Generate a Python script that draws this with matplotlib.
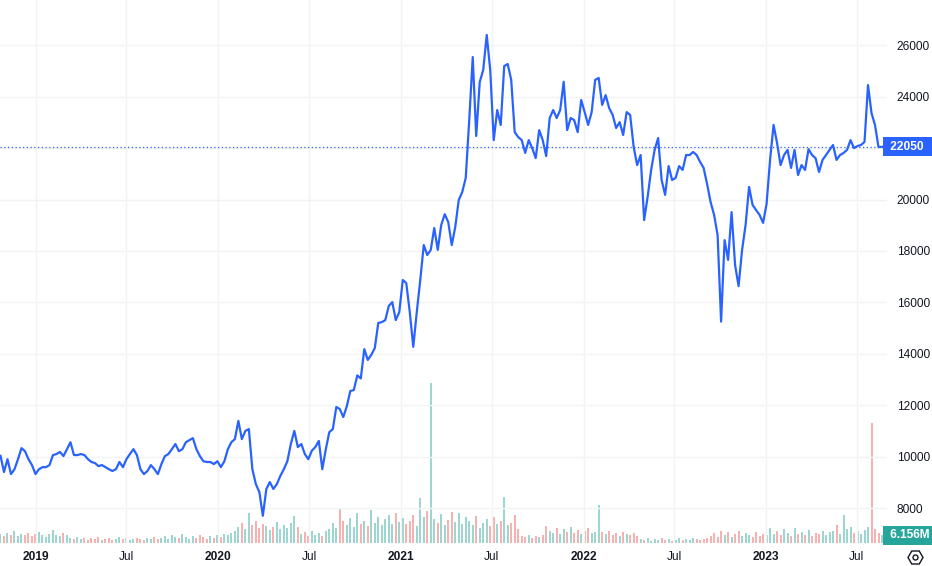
import numpy as np
import pandas as pd
import matplotlib
matplotlib.use("Agg")
import matplotlib.pyplot as plt
import matplotlib.transforms as mtransforms
from matplotlib.patches import RegularPolygon, Circle

plt.rcParams['font.family'] = ['Liberation Sans', 'DejaVu Sans']

# weekly closing prices
prices = [
    10030, 9400, 9900, 9320, 9510, 9900, 10330, 10210, 9900, 9670,
    9320, 9510, 9590, 9590, 9670, 10060, 10100, 10180, 10020, 10290,
    10560, 10060, 10060, 10100, 10060, 9900, 9790, 9750, 9630, 9670,
    9590, 9510, 9440, 9510, 9790, 9590, 9900, 10100, 10290, 10060,
    9510, 9320, 9440, 9670, 9510, 9320, 9710, 10020, 10100, 10290,
    10490, 10210, 10290, 10560, 10640, 10720, 10290, 10020, 9820, 9790,
    9790, 9710, 9820, 9590, 9820, 10290, 10560, 10680, 11390, 10680,
    11000, 11070, 9510, 8930, 8620, 7700, 8740, 9010, 8740, 8930,
    9250, 9510, 9820, 10490, 11000, 10370, 10490, 10100, 9900, 10230,
    10370, 10610, 9510, 10290, 10950, 11070, 11930, 11850, 11540, 11960,
    12550, 12590, 13160, 13040, 14180, 13760, 13960, 14220, 15200, 15230,
    15310, 15860, 16010, 15310, 15620, 16870, 16750, 15620, 14270, 15620,
    16870, 18230, 17840, 18040, 18890, 18040, 19010, 19430, 19120, 18230,
    18930, 19980, 20290, 20840, 23090, 25540, 22470, 24570, 25040, 26400,
    25040, 22310, 23480, 22900, 25190, 25270, 24650, 22620, 22430, 22310,
    21810, 22310, 22000, 21610, 22700, 22310, 21690, 23170, 23480, 23170,
    23480, 24580, 22700, 23170, 23090, 22620, 23870, 23400, 22900, 23400,
    24650, 24730, 23680, 24060, 23560, 23290, 22780, 23010, 22510, 23400,
    23290, 22050, 21340, 21730, 19200, 20100, 21150, 21930, 22390, 20760,
    20180, 21300, 20760, 20840, 21300, 21150, 21730, 21730, 21850, 21730,
    21460, 21230, 20600, 19900, 19400, 18620, 15250, 18420, 17650, 19510,
    17450, 16630, 18040, 19010, 20490, 19790, 19590, 19400, 19090, 19830,
    21540, 22900, 22200, 21340, 21730, 21930, 21230, 21930, 20950, 21340,
    21150, 21960, 21730, 21610, 21070, 21540, 21730, 21930, 22120, 21540,
    21730, 21810, 21930, 22310, 22000, 22080, 22120, 22240, 24450, 23360,
    22900, 22040, 22050,
]

# volume (millions)
volumes = [
    7.4, 5.7, 8.2, 6.6, 9.8, 5.7, 7.4, 6.6, 8.2, 5.7, 7.4, 9.0, 6.6, 4.9, 7.4, 10.7, 6.6, 5.7, 8.2, 6.6,
    4.1, 3.3, 4.9, 3.3, 4.1, 2.5, 4.1, 3.3, 4.9, 2.5, 3.3, 4.1, 2.5, 3.3, 4.9, 3.3, 4.1, 2.5, 3.3, 4.1,
    3.3, 2.5, 4.1, 3.3, 4.9, 3.3,
    4.1, 5.7, 3.3, 6.6, 4.9, 4.1, 7.4, 4.9, 3.3, 5.7, 4.1, 6.6, 4.9, 3.3, 5.7, 4.1, 6.6,
    4.9, 7.4, 6.6, 8.2, 9.8,
    13.1, 16.4, 11.5, 24.6, 14.8, 18.0, 12.3, 15.6, 13.9, 10.7, 13.1, 17.2, 11.5, 14.8, 12.3, 16.4, 22.1, 13.1,
    7.4, 9.0, 5.7, 9.8, 6.6, 8.2, 5.7, 9.8, 11.5,
    16.4, 12.3, 28.7, 18.0, 14.8, 20.5, 13.1, 24.6, 15.6, 18.0, 13.9, 27.1, 16.4, 21.3, 14.8, 19.7, 23.0, 15.6, 24.6, 17.2,
    20.5, 15.6, 18.0, 23.0, 13.9, 36.9, 21.3, 26.2, 131.2, 19.7, 16.4, 23.8, 14.8, 18.9, 25.4, 17.2, 24.6, 15.6, 21.3,
    18.0, 14.8, 22.1, 12.3, 16.4, 19.7, 13.9, 21.3, 15.6, 18.0, 37.7, 14.8, 16.4, 23.0, 11.5,
    5.7, 4.9, 6.6, 4.1, 5.7, 4.9, 6.6,
    13.9, 9.8, 8.2, 12.3, 7.4, 11.5, 9.0, 13.1, 8.2, 10.7, 7.4, 9.8, 12.3, 8.2, 9.0, 31.2,
    9.0, 7.4, 9.8, 6.6, 8.2, 5.7, 9.0, 7.4, 6.6, 8.2, 5.7,
    3.3, 2.5, 4.1, 1.6, 3.3, 2.5, 4.1, 2.5, 3.3, 1.6, 2.5, 4.1, 2.5, 3.3, 2.5, 4.1, 3.3, 2.5, 3.3, 4.1,
    5.7, 8.2, 4.9, 9.8, 6.6, 9.0, 4.9, 7.4, 9.8, 5.7, 8.2, 6.6, 4.9, 9.0, 5.7, 7.4, 6.6,
    12.3, 7.4, 9.8, 6.6, 11.5, 8.2, 5.7, 12.3, 7.4, 9.0, 6.6, 10.7, 5.7, 8.2, 7.4, 9.8, 6.6, 9.0,
    9.8, 14.8, 7.4, 23.0, 11.5, 13.1, 8.2, 9.8, 7.4,
    10.7, 13.1, 98.4, 11.5, 8.2, 6.156,
]

dates = pd.date_range('2018-10-22', periods=len(prices), freq='7D')

tick_dates = pd.to_datetime(['2019-01-01', '2019-07-01', '2020-01-01', '2020-07-01',
                             '2021-01-01', '2021-07-01', '2022-01-01', '2022-07-01',
                             '2023-01-01', '2023-07-01'])
tick_labels = ['2019', 'Jul', '2020', 'Jul', '2021', 'Jul', '2022', 'Jul', '2023', 'Jul']
price_ticks = [8000, 10000, 12000, 14000, 16000, 18000, 20000, 22000, 24000, 26000]
last_price = 22050

blue = '#2962FF'
grid_c = '#f2f3f5'
text_c = '#131722'

fig = plt.figure(figsize=(9.32, 5.66), dpi=100)
rect = [0, 23 / 566, 887 / 932, 543 / 566]
ax = fig.add_axes(rect)
axv = ax.twinx()
ax.set_zorder(axv.get_zorder() + 1)
ax.patch.set_visible(False)

# volume bars
p = np.array(prices)
up = np.r_[True, p[1:] >= p[:-1]]
vcol = np.where(up, '#26a69a', '#ef5350')
axv.bar(dates, volumes, width=4, color=vcol, alpha=0.45, linewidth=0)
axv.set_ylim(0, max(volumes) * 543 / 160)
axv.set_yticks([])

# price line
ax.plot(dates, prices, color=blue, linewidth=1.6, solid_joinstyle='round')
ax.axhline(last_price, color=blue, linestyle=(0, (1, 2)), linewidth=0.9)

ax.set_xlim(pd.Timestamp('2018-10-21'), pd.Timestamp('2023-08-31'))
ax.set_ylim(6640, 27760)

ax.yaxis.tick_right()
ax.set_yticks(price_ticks)
# the 22000 label is hidden behind the last-price tag
ax.set_yticklabels(['' if v == 22000 else str(v) for v in price_ticks])
ax.tick_params(axis='y', length=0, pad=7, labelsize=8.6, labelcolor=text_c)
ax.set_xticks(tick_dates)
ax.set_xticklabels(tick_labels)
ax.tick_params(axis='x', length=0, pad=6, labelsize=8.6, labelcolor=text_c)
for lbl in ax.get_xticklabels():
    if lbl.get_text() != 'Jul':
        lbl.set_fontweight('bold')

ax.grid(True, color=grid_c, linewidth=1)
for a in (ax, axv):
    for s in a.spines.values():
        s.set_visible(False)

# last price label
trans = mtransforms.blended_transform_factory(ax.transAxes, ax.transData)
ax.text(1.0, last_price, ' 22050  ', transform=trans, ha='left', va='center',
        fontsize=8.6, color='white', fontweight='bold', clip_on=False,
        bbox=dict(boxstyle='square,pad=0.3', facecolor=blue, edgecolor='none'))

# last volume label
transv = mtransforms.blended_transform_factory(axv.transAxes, axv.transData)
axv.text(1.0, volumes[-1], ' 6.156M ', transform=transv, ha='left', va='center',
         fontsize=8.6, color='white', fontweight='bold', clip_on=False,
         bbox=dict(boxstyle='square,pad=0.3', facecolor='#26a69a', edgecolor='none'))

# settings icon
fig.add_artist(RegularPolygon((9.155, 0.085), 6, radius=0.075, orientation=np.pi / 6,
                              transform=fig.dpi_scale_trans, fill=False,
                              edgecolor=text_c, linewidth=1))
fig.add_artist(Circle((9.155, 0.085), 0.025, transform=fig.dpi_scale_trans,
                      fill=False, edgecolor=text_c, linewidth=1))

fig.savefig('out.png', dpi=100)
